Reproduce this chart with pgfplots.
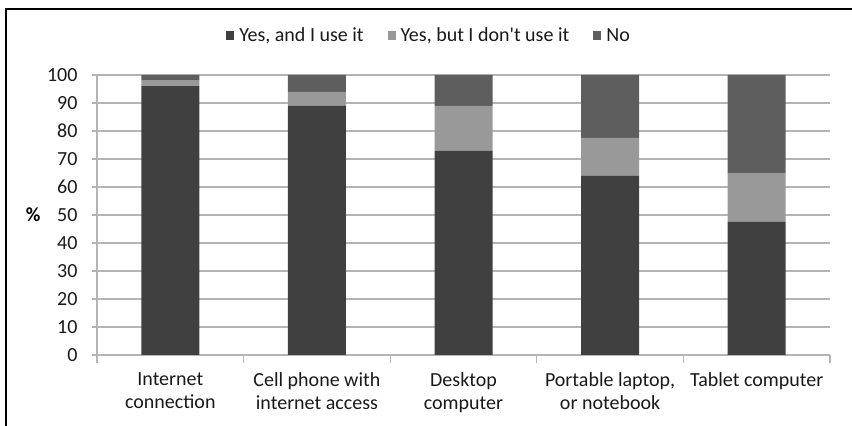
\documentclass[border=0pt]{standalone}
\usepackage{pgfplots}
\pgfplotsset{compat=1.18}
\usepackage{fontspec}
\setmainfont{Carlito}
\definecolor{cyes}{HTML}{404040}
\definecolor{cbut}{HTML}{999999}
\definecolor{cno}{HTML}{5E5E5E}
\definecolor{cgrid}{HTML}{B4B4B4}
\begin{document}
\begin{tikzpicture}
\path[use as bounding box] (0bp,0bp) rectangle (852bp,426bp);
\draw[line width=1.3bp] (6bp,0bp) -- (6bp,417bp) -- (852bp,417bp);
\begin{axis}[
  at={(97bp,71bp)}, anchor=south west,
  scale only axis, width=733bp, height=280bp,
  ybar stacked, bar width=58bp,
  xmin=-0.5, xmax=4.5, ymin=0, ymax=100,
  xtick={0,1,2,3,4},
  xticklabels={{Internet\\connection}, {Cell phone with\\internet access}, {Desktop\\computer}, {Portable laptop,\\or notebook}, {Tablet computer}},
  minor xtick={-0.5,0.5,1.5,2.5,3.5,4.5},
  ytick={0,10,...,100},
  axis x line*=bottom, axis y line*=left,
  axis line style={color=cgrid, line width=1.2bp},
  major x tick style={draw=none},
  minor x tick style={color=cgrid, line width=1.2bp},
  minor tick length=8bp,
  major y tick style={color=cgrid, line width=1.2bp},
  major tick length=5bp,
  tick align=outside,
  ymajorgrids, grid style={color=cgrid, line width=1.2bp},
  /pgf/number format/assume math mode=true,
  tick label style={font=\fontsize{20bp}{23bp}\selectfont, text=black!90},
  xticklabel style={align=center, yshift=-9bp},
  yticklabel style={xshift=-11bp},
  ylabel={\textbf{\%}},
  ylabel style={rotate=-90, at={(axis description cs:-0.087,0.5)}, anchor=center, font=\fontsize{20bp}{24bp}\selectfont},
  legend columns=3,
  legend style={at={(0.453,1.14)}, anchor=center, draw=none, fill=none,
    font=\fontsize{20bp}{24bp}\selectfont, text=black!90,
    /tikz/every even column/.append style={column sep=22bp},
    /tikz/every odd column/.append style={column sep=3bp},
    inner sep=0pt},
  legend image code/.code={\fill[#1] (0bp,-4.5bp) rectangle (8bp,4.5bp);},
]
\addplot[fill=cyes, draw=none] coordinates {(0,96) (1,89) (2,73) (3,64) (4,47.5)};
\addplot[fill=cbut, draw=none] coordinates {(0,2) (1,5) (2,16) (3,13.5) (4,17.5)};
\addplot[fill=cno, draw=none] coordinates {(0,2) (1,6) (2,11) (3,22.5) (4,35)};
\legend{{Yes, and I use it}, {Yes, but I don\textquotesingle t use it}, {No}}
\end{axis}
\end{tikzpicture}
\end{document}
